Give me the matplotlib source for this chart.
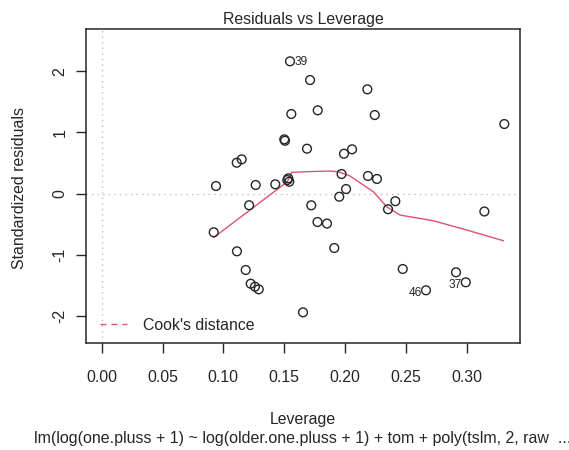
import matplotlib
matplotlib.use("Agg")
import matplotlib.pyplot as plt
from matplotlib.lines import Line2D

plt.rcParams['font.family'] = ['Liberation Sans', 'DejaVu Sans']

leverage = [0.0940, 0.1266, 0.1427, 0.1212, 0.0921, 0.1112, 0.1184, 0.1225, 0.1260, 0.1291,
            0.1110, 0.1151, 0.1548, 0.1713, 0.2184, 0.1559, 0.1776, 0.2245, 0.3310, 0.1501,
            0.1507, 0.1688, 0.1992, 0.2058, 0.1972, 0.2189, 0.2263, 0.1526, 0.1534, 0.1542,
            0.2009, 0.1953, 0.1723, 0.1774, 0.1852, 0.1912, 0.2414, 0.2354, 0.3146, 0.2475,
            0.2913, 0.2993, 0.2666, 0.1655]
std_resid = [0.124, 0.141, 0.152, -0.190, -0.632, -0.943, -1.248, -1.472, -1.521, -1.564,
             0.505, 0.560, 2.162, 1.856, 1.704, 1.301, 1.361, 1.284, 1.137, 0.887,
             0.864, 0.734, 0.652, 0.724, 0.320, 0.288, 0.239, 0.222, 0.250, 0.194,
             0.075, -0.051, -0.191, -0.464, -0.489, -0.889, -0.124, -0.255, -0.292, -1.232,
             -1.286, -1.449, -1.580, -1.940]

# smoother
smooth_x = [0.0923, 0.1526, 0.1562, 0.1685, 0.1877, 0.1945, 0.2041, 0.2233, 0.2343,
            0.2452, 0.2726, 0.3001, 0.3302]
smooth_y = [-0.714, 0.194, 0.348, 0.358, 0.369, 0.358, 0.288, 0.031, -0.214,
            -0.350, -0.443, -0.595, -0.770]

# labelled points: (index, label, side)
id_labels = [(12, "39", "right"), (41, "37", "left"), (42, "46", "left")]

x_ticks = [0.00, 0.05, 0.10, 0.15, 0.20, 0.25, 0.30]
x_ticklabels = ["0.00", "0.05", "0.10", "0.15", "0.20", "0.25", "0.30"]
y_ticks = [-2, -1, 0, 1, 2]
y_ticklabels = ["-2", "-1", "0", "1", "2"]

title = "Residuals vs Leverage"
xlabel = "Leverage"
ylabel = "Standardized residuals"
subtitle = "lm(log(one.pluss + 1) ~ log(older.one.pluss + 1) + tom + poly(tslm, 2, raw  ..."
legend_label = "Cook's distance"

W, H = 569, 450
fig = plt.figure(figsize=(W / 100, H / 100), dpi=100)
L, R, T, B = 86, 520, 29.3, 343
ax = fig.add_axes([L / W, 1 - B / H, (R - L) / W, (B - T) / H])

FS = 11.4
TXT = '#262626'
red = '#DF536B'

ax.axhline(0, color='#BEBEBE', lw=1.0, linestyle=(0, (1, 3)), zorder=1)
ax.axvline(0, color='#BEBEBE', lw=1.0, linestyle=(0, (1, 3)), zorder=1)

ax.scatter(leverage, std_resid, s=40, facecolors='none', edgecolors='#262626',
           linewidths=1.0, zorder=3)
ax.plot(smooth_x, smooth_y, color=red, lw=1.0, zorder=2)

for idx, lab, side in id_labels:
    xx, yy = leverage[idx], std_resid[idx]
    if side == "right":
        ax.annotate(lab, (xx, yy), xytext=(3.0, -0.5), textcoords='offset points',
                    ha='left', va='center', fontsize=FS * 0.75, color=TXT)
    else:
        ax.annotate(lab, (xx, yy), xytext=(-3.0, -2.0), textcoords='offset points',
                    ha='right', va='center', fontsize=FS * 0.75, color=TXT)

ax.set_xlim(-0.0129, 0.3439)
ax.set_ylim(-2.441, 2.685)
ax.set_xticks(x_ticks)
ax.set_xticklabels(x_ticklabels)
ax.set_yticks(y_ticks)
ax.set_yticklabels(y_ticklabels, rotation=90, va='center')

for s in ax.spines.values():
    s.set_color('#262626')
    s.set_linewidth(1.1)
ax.tick_params(axis='both', direction='out', length=7.5, width=1.0, color='#262626',
               labelsize=FS, labelcolor=TXT)
ax.tick_params(axis='x', pad=12)
ax.tick_params(axis='y', pad=6)

ax.text(0.5, 1 + 5.8 / (B - T), title, transform=ax.transAxes, ha='center',
        va='baseline', fontsize=FS, color=TXT)

cx = (L + R) / 2 / W
fig.text(cx, 1 - 419.3 / H, xlabel, ha='center', va='center', fontsize=FS, color=TXT)
fig.text(cx, 1 - 438.9 / H, subtitle, ha='center', va='center', fontsize=11.5, color=TXT)
fig.text(20 / W, 1 - 187.5 / H, ylabel, ha='center', va='center', rotation=90,
         fontsize=FS, color=TXT)

handle = Line2D([], [], color=red, lw=1.0, linestyle=(0, (4.3, 3.6)))
ax.legend([handle], [legend_label], loc='center left',
          bbox_to_anchor=(14 / (R - L), 18 / (B - T)), frameon=False,
          borderpad=0, borderaxespad=0, handlelength=1.69, handletextpad=1.05,
          fontsize=FS, labelcolor=TXT)

fig.savefig("out.png", dpi=100)
